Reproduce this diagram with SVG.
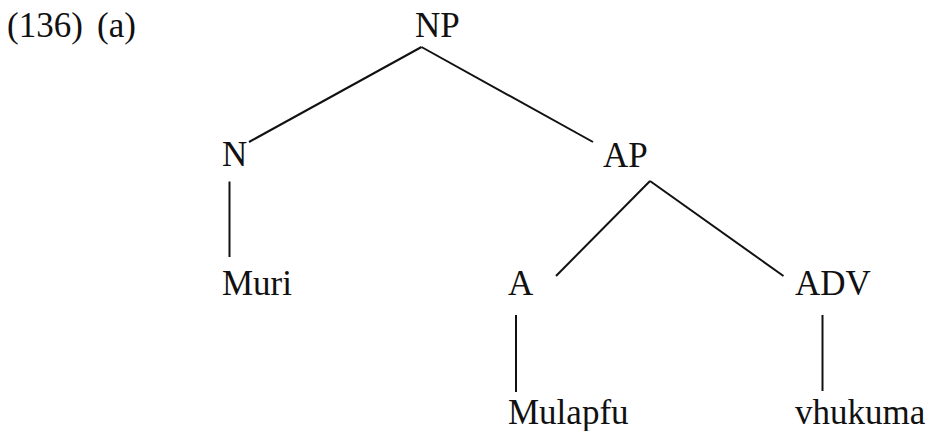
<svg xmlns="http://www.w3.org/2000/svg" width="934" height="431" viewBox="0 0 934 431">
<style>
text { font-family: "Liberation Serif", "Times New Roman", serif; font-size: 35px; fill: #111; }
.edge { stroke: #111; stroke-width: 2; fill: none; stroke-linecap: butt; }
</style>
<rect width="934" height="431" fill="#ffffff"/>
<g id="label"><text x="7" y="36.5">(136)</text><text x="97" y="36.5">(a)</text></g>
<g id="connectors">
  <line class="edge" x1="421.5" y1="47" x2="249" y2="142"/>
  <line class="edge" x1="421.5" y1="47" x2="593" y2="142"/>
  <line class="edge" x1="229.5" y1="181.5" x2="229.5" y2="257"/>
  <line class="edge" x1="650" y1="181" x2="556" y2="276"/>
  <line class="edge" x1="650" y1="181" x2="783.5" y2="276"/>
  <line class="edge" x1="516" y1="315" x2="516" y2="392"/>
  <line class="edge" x1="822.5" y1="315" x2="822.5" y2="391"/>
</g>
<g id="NP"><text x="415" y="36.5">NP</text></g>
<g id="N"><text x="222" y="166">N</text></g>
<g id="AP"><text x="603" y="166.5">AP</text></g>
<g id="Muri"><text x="222" y="294.5">Muri</text></g>
<g id="A"><text x="508" y="295">A</text></g>
<g id="ADV"><text x="795" y="295">ADV</text></g>
<g id="Mulapfu"><text x="508" y="424">Mulapfu</text></g>
<g id="vhukuma"><text x="795" y="424">vhukuma</text></g>
</svg>
